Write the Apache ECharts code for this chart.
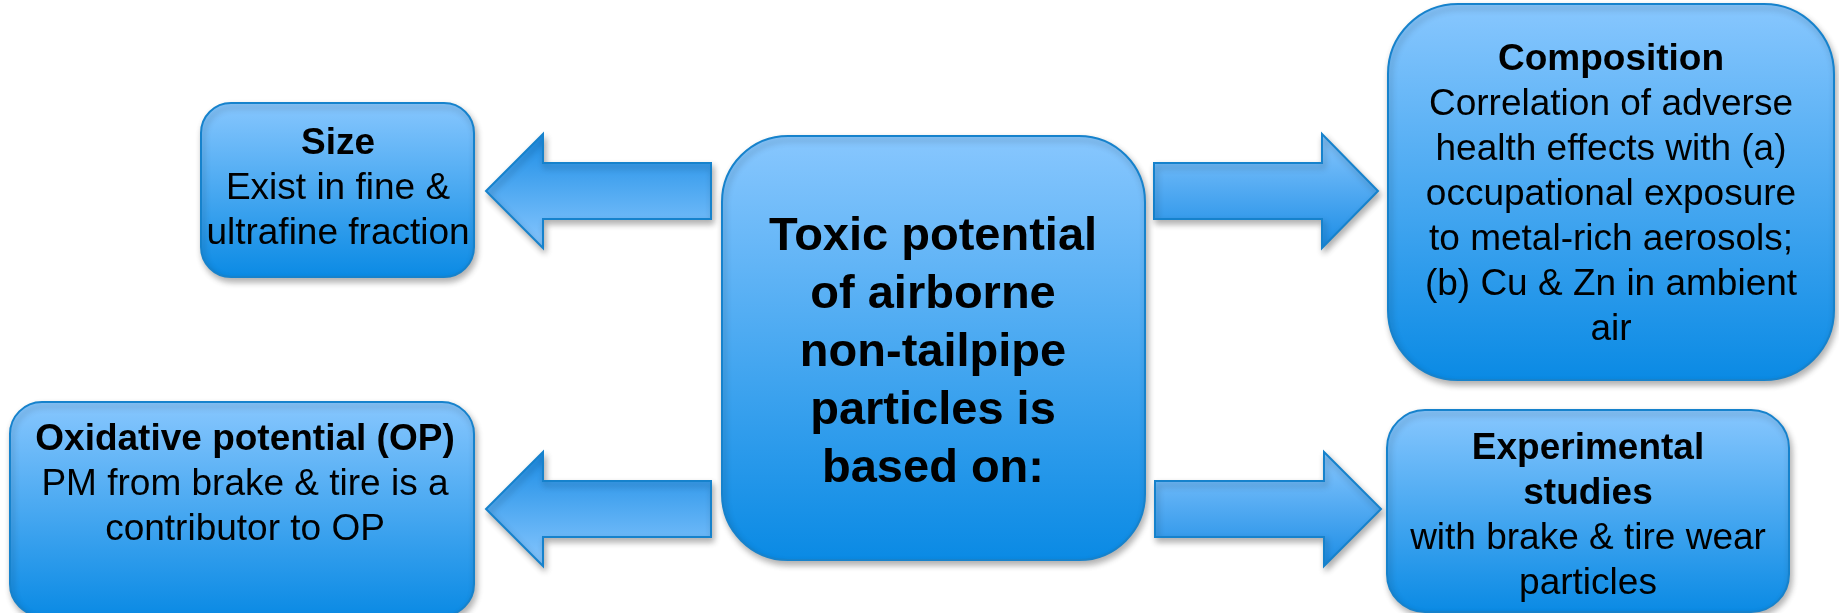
<!DOCTYPE html>
<html>
<head>
<meta charset="utf-8">
<script src="https://cdn.jsdelivr.net/npm/echarts@6/dist/echarts.min.js"></script>
<style>
	html, body { margin: 0; padding: 0; background: #fff; }
	#chart { width: 1839px; height: 613px; }
</style>
</head>
<body>
<div id="chart"></div>
<script>
// 文本内容
const centerLines = [ 'Toxic potential', 'of airborne', 'non-tailpipe', 'particles is', 'based on:' ]
const boxTitles = [ 'Size', 'Oxidative potential (OP)', 'Composition', 'Experimental\nstudies' ]
const boxBodies = [
	[ 'Exist in fine &', 'ultrafine fraction' ],
	[ 'PM from brake & tire is a', 'contributor to OP' ],
	[ 'Correlation of adverse', 'health effects with (a)', 'occupational exposure', 'to metal-rich aerosols;', '(b) Cu & Zn in ambient', 'air' ],
	[ 'with brake & tire wear', 'particles' ]
]

// 布局
const boxLayout = [
	{ x: 201, y: 103, w: 273, h: 174, r: 30, tx: 338, ty: 189 },
	{ x: 10, y: 402, w: 464, h: 214, r: 32, tx: 245, ty: 485 },
	{ x: 1388, y: 4, w: 446, h: 376, r: 70, tx: 1611, ty: 195 },
	{ x: 1387, y: 410, w: 402, h: 202, r: 38, tx: 1588, ty: 516 }
]
const centerLayout = { x: 722, y: 136, w: 423, h: 424, r: 66, tx: 933, ty: 353 }
// 箭头: 尾部x, 头部根x, 尖端x, 中心y
const arrowLayout = [
	{ tail: 711, neck: 543, tip: 486, cy: 191 },
	{ tail: 711, neck: 543, tip: 486, cy: 509 },
	{ tail: 1154, neck: 1322, tip: 1378, cy: 191 },
	{ tail: 1155, neck: 1324, tip: 1381, cy: 509 }
]

const LIGHT = '#88c7fe'
const DARK = '#0a8ae4'
const EDGE = '#1682cc'
const FONT = 'Arial, "Liberation Sans", sans-serif'

const grad = (top, bottom) => ({
	type: 'linear', x: 0, y: 0, x2: 0, y2: 1,
	colorStops: [ { offset: 0, color: top }, { offset: 1, color: bottom } ]
})

const shadow = {
	shadowBlur: 6,
	shadowOffsetX: 2,
	shadowOffsetY: 4,
	shadowColor: 'rgba(0, 0, 0, 0.3)'
}

const makeBox = (b) => ({
	type: 'rect',
	shape: { x: b.x, y: b.y, width: b.w, height: b.h, r: b.r },
	style: { fill: grad(LIGHT, DARK), stroke: EDGE, lineWidth: 2, ...shadow }
})

const makeArrow = (a) => {
	const half = 28
	const head = 57
	const pts = [
		[ a.tail, a.cy - half ],
		[ a.neck, a.cy - half ],
		[ a.neck, a.cy - head ],
		[ a.tip, a.cy ],
		[ a.neck, a.cy + head ],
		[ a.neck, a.cy + half ],
		[ a.tail, a.cy + half ]
	]
	const toRight = a.tip > a.tail
	return {
		type: 'polygon',
		shape: { points: pts },
		style: {
			fill: toRight ? grad(LIGHT, '#1a8ce5') : grad('#1a8ce5', LIGHT),
			stroke: EDGE,
			lineWidth: 2,
			...shadow
		}
	}
}

const makeText = (layout, title, body) => {
	const lines = title.split('\n').map((t) => '{b|' + t + '}')
	body.forEach((t) => lines.push('{n|' + t + '}'))
	return {
		type: 'text',
		x: layout.tx,
		y: layout.ty,
		style: {
			text: lines.join('\n'),
			align: 'center',
			verticalAlign: 'middle',
			fill: '#000',
			rich: {
				b: { fontFamily: FONT, fontSize: 37, fontWeight: 'bold', lineHeight: 45, fill: '#000' },
				n: { fontFamily: FONT, fontSize: 37, lineHeight: 45, fill: '#000' }
			}
		}
	}
}

const graphic = []
arrowLayout.forEach((a) => graphic.push(makeArrow(a)))
boxLayout.forEach((b) => graphic.push(makeBox(b)))
graphic.push(makeBox(centerLayout))
boxLayout.forEach((b, i) => graphic.push(makeText(b, boxTitles[i], boxBodies[i])))
graphic.push({
	type: 'text',
	x: centerLayout.tx,
	y: centerLayout.ty,
	style: {
		text: centerLines.join('\n'),
		align: 'center',
		verticalAlign: 'middle',
		fill: '#000',
		fontFamily: FONT,
		fontSize: 47,
		fontWeight: 'bold',
		lineHeight: 58
	}
})

const chart = echarts.init(document.getElementById('chart'), null, { renderer: 'canvas' })
chart.setOption({
	animation: false,
	backgroundColor: '#fff',
	graphic: graphic
})
</script>
</body>
</html>
